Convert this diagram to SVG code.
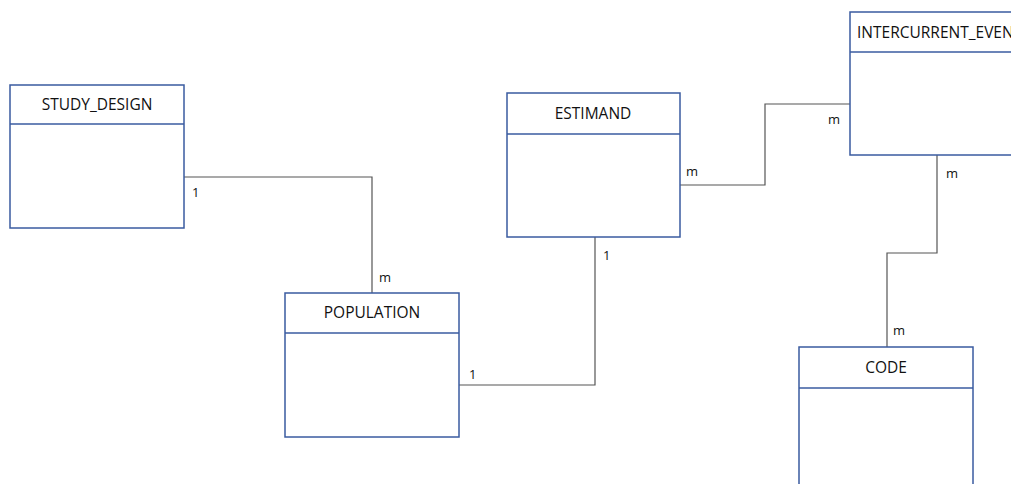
<svg xmlns="http://www.w3.org/2000/svg" width="1011" height="484" viewBox="0 0 1011 484">
<style>
.box{fill:#fff;stroke:#3A5BA0;stroke-width:1.5}
.sep{stroke:#3A5BA0;stroke-width:1.5}
.title{font-family:"Open Sans","Liberation Sans",sans-serif;font-size:15.5px;fill:#111;text-anchor:middle}
.lbl{font-family:"Open Sans","Liberation Sans",sans-serif;font-size:13px;fill:#111}
.conn{fill:none;stroke:#555;stroke-width:1.2}
</style>
<rect width="1011" height="484" fill="#fff"/>
<g id="connectors">
<polyline class="conn" points="184,177 372,177 372,293"/>
<polyline class="conn" points="595,237 595,385 459,385"/>
<polyline class="conn" points="680,185 765,185 765,104 850,104"/>
<polyline class="conn" points="937,155 937,253 887,253 887,347"/>
<text class="lbl" x="192" y="197">1</text>
<text class="lbl" x="379" y="282">m</text>
<text class="lbl" x="603" y="260">1</text>
<text class="lbl" x="469" y="379">1</text>
<text class="lbl" x="686" y="176">m</text>
<text class="lbl" x="828" y="124">m</text>
<text class="lbl" x="946" y="178">m</text>
<text class="lbl" x="893" y="335">m</text>
</g>
<g id="study_design">
<rect class="box" x="10" y="85" width="174" height="143"/>
<line class="sep" x1="10" y1="124" x2="184" y2="124"/>
<text class="title" x="97" y="110">STUDY_DESIGN</text>
</g>
<g id="estimand">
<rect class="box" x="507" y="93" width="173" height="144"/>
<line class="sep" x1="507" y1="134" x2="680" y2="134"/>
<text class="title" x="593" y="119">ESTIMAND</text>
</g>
<g id="intercurrent_event">
<rect class="box" x="850" y="12" width="180" height="143"/>
<line class="sep" x1="850" y1="52" x2="1030" y2="52"/>
<text class="title" x="857" y="38" style="text-anchor:start">INTERCURRENT_EVENT</text>
</g>
<g id="population">
<rect class="box" x="285" y="293" width="174" height="144"/>
<line class="sep" x1="285" y1="333" x2="459" y2="333"/>
<text class="title" x="372" y="318">POPULATION</text>
</g>
<g id="code">
<rect class="box" x="799" y="347" width="174" height="150"/>
<line class="sep" x1="799" y1="388" x2="973" y2="388"/>
<text class="title" x="886" y="373">CODE</text>
</g>
</svg>
